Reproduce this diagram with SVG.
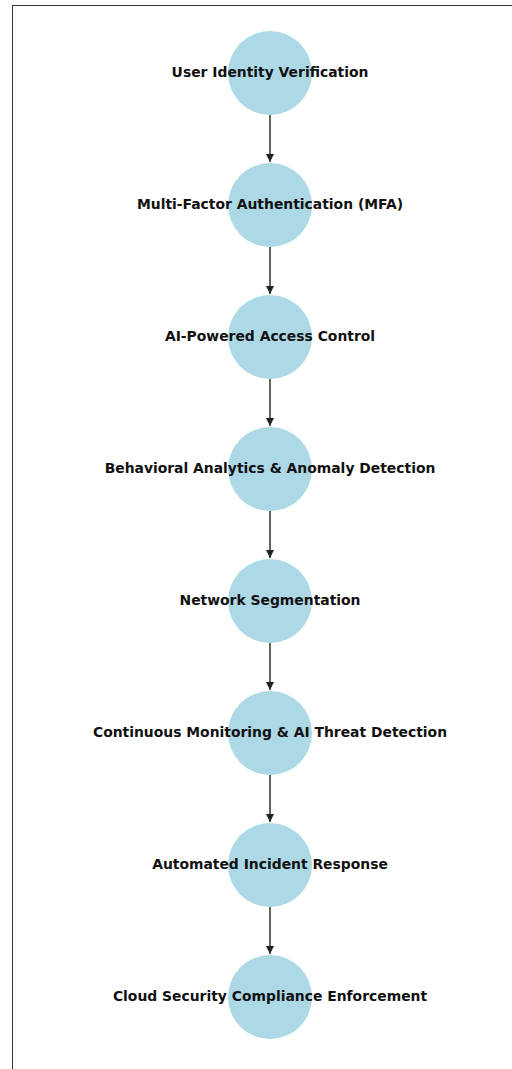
<svg xmlns="http://www.w3.org/2000/svg" width="512" height="1069" viewBox="0 0 512 1069">
<defs>
<style>
.node circle{fill:#add8e6}
.node text{font-family:"DejaVu Sans",sans-serif;font-weight:bold;font-size:13.9px;fill:#111;text-anchor:middle;dominant-baseline:central}
.edges line{stroke:#222;stroke-width:1.4}
</style>
<marker id="arr" viewBox="0 0 10 10" refX="10" refY="5" markerWidth="8" markerHeight="8" markerUnits="userSpaceOnUse" orient="auto">
<path d="M0,0 L10,5 L0,10 z" fill="#222"/>
</marker>
</defs>
<rect x="0" y="0" width="512" height="1069" fill="#fff"/>
<rect x="12.5" y="5.5" width="520" height="1080" fill="none" stroke="#333" stroke-width="1"/>
<g class="edges">
<line x1="270" y1="115" x2="270" y2="162" marker-end="url(#arr)"/>
<line x1="270" y1="247" x2="270" y2="294" marker-end="url(#arr)"/>
<line x1="270" y1="379" x2="270" y2="426" marker-end="url(#arr)"/>
<line x1="270" y1="511" x2="270" y2="558" marker-end="url(#arr)"/>
<line x1="270" y1="643" x2="270" y2="690" marker-end="url(#arr)"/>
<line x1="270" y1="775" x2="270" y2="822" marker-end="url(#arr)"/>
<line x1="270" y1="907" x2="270" y2="954" marker-end="url(#arr)"/>
</g>
<g id="n1" class="node"><circle cx="270" cy="73" r="42"/><text x="270" y="72">User Identity Verification</text></g>
<g id="n2" class="node"><circle cx="270" cy="205" r="42"/><text x="270" y="204">Multi-Factor Authentication (MFA)</text></g>
<g id="n3" class="node"><circle cx="270" cy="337" r="42"/><text x="270" y="336">AI-Powered Access Control</text></g>
<g id="n4" class="node"><circle cx="270" cy="469" r="42"/><text x="270" y="468">Behavioral Analytics &amp; Anomaly Detection</text></g>
<g id="n5" class="node"><circle cx="270" cy="601" r="42"/><text x="270" y="600">Network Segmentation</text></g>
<g id="n6" class="node"><circle cx="270" cy="733" r="42"/><text x="270" y="732">Continuous Monitoring &amp; AI Threat Detection</text></g>
<g id="n7" class="node"><circle cx="270" cy="865" r="42"/><text x="270" y="864">Automated Incident Response</text></g>
<g id="n8" class="node"><circle cx="270" cy="997" r="42"/><text x="270" y="996">Cloud Security Compliance Enforcement</text></g>
</svg>
